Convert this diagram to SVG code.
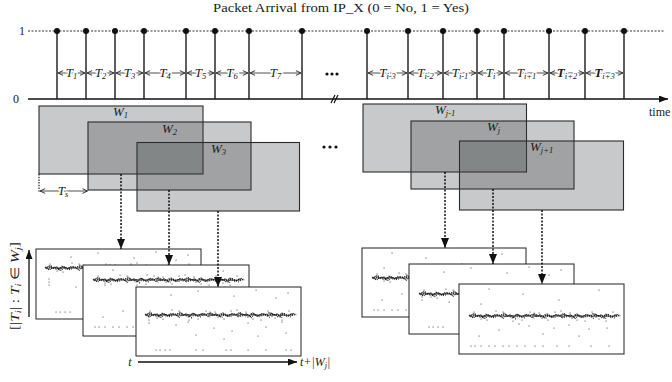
<svg xmlns="http://www.w3.org/2000/svg" width="672" height="382" viewBox="0 0 672 382">
<defs>
<style>
text{font-family:"Liberation Serif","Times New Roman",serif;fill:#1a1a1a}
.lbl{font-size:12px}
.it{font-style:italic}
.tl{font-size:13px;font-style:italic;text-anchor:middle;stroke:#fff;stroke-width:3px;paint-order:stroke;stroke-linejoin:round}
.wl{font-size:13px;font-style:italic}
.sub{font-size:8.5px}
.stem{stroke:#1a1a1a;stroke-width:1.4}
.dot{fill:#111}
.iv{stroke:#222;stroke-width:0.8;fill:none;marker-start:url(#open);marker-end:url(#open)}
.win{fill:#3a3c40;fill-opacity:.28;stroke:#2b2b2b;stroke-width:1.1}
.plot{fill:#fff;stroke:#222;stroke-width:1}
.con{stroke:#111;stroke-width:1.5;stroke-dasharray:2 1.5;fill:none;marker-end:url(#fill)}
.pts{fill:none;stroke:#333;stroke-width:1.1;stroke-linecap:round}
.bd{fill:none;stroke:#151515;stroke-width:1.1}
.ax{stroke:#111;stroke-width:1.3;fill:none;marker-end:url(#axh)}
</style>
<marker id="open" viewBox="0 0 6 6" refX="5.6" refY="3" markerWidth="6" markerHeight="6" markerUnits="userSpaceOnUse" orient="auto-start-reverse"><path d="M0.5,0.6 L5.5,3 L0.5,5.4" fill="none" stroke="#222" stroke-width="0.9"/></marker>
<marker id="fill" viewBox="0 0 10 8" refX="10" refY="4" markerWidth="10" markerHeight="8" markerUnits="userSpaceOnUse" orient="auto"><path d="M0,0 L10,4 L0,8 z" fill="#111"/></marker>
<marker id="axh" viewBox="0 0 9 7" refX="9" refY="3.5" markerWidth="9" markerHeight="7" markerUnits="userSpaceOnUse" orient="auto"><path d="M0,0 L9,3.5 L0,7 z" fill="#111"/></marker>
<path id="wa" d="M0,-1 l3,2.5 3,-3.5 3,2 3,-1 3,3 3,-4 3,2 3,1 3,-2.5 3,0.5 3,2.5 3,-3.5 3,2 3,-1 3,3 3,-4 3,2 3,1 3,-2.5 3,0.5 3,2.5 3,-3.5 3,2 3,-1 3,3 3,-4 3,2 3,1 3,-2.5 3,0.5 3,2.5 3,-3.5 3,2 3,-1 3,3 3,-4 3,2 3,1 3,-2.5 3,0.5 3,2.5 3,-3.5 3,2 3,-1 3,3 3,-4 3,2 3,1 3,-2.5 3,0.5"/>
<path id="wb" d="M0,0 l3,-2 3,3 3,-1.5 3,2.5 3,-3 3,1 3,1.5 3,-2 3,0.5 3,0 3,-2 3,3 3,-1.5 3,2.5 3,-3 3,1 3,1.5 3,-2 3,0.5 3,0 3,-2 3,3 3,-1.5 3,2.5 3,-3 3,1 3,1.5 3,-2 3,0.5 3,0 3,-2 3,3 3,-1.5 3,2.5 3,-3 3,1 3,1.5 3,-2 3,0.5 3,0 3,-2 3,3 3,-1.5 3,2.5 3,-3 3,1 3,1.5 3,-2 3,0.5 3,0"/>
<g id="band">
<path class="bd" d="M0,0 h148" stroke-dasharray="1.2 0.7"/>
<use href="#wa" class="bd" stroke-dasharray="1 1.1"/>
<use href="#wb" class="bd" x="1" stroke-dasharray="0.9 1.3"/>
<use href="#wa" class="bd" x="1.5" y="0.8" stroke-dasharray="0.8 1.5"/>
<use href="#wb" class="bd" x="2" y="-0.8" stroke-dasharray="0.8 1.6"/>
<path class="pts" d="M5,-4h.1 M18,4h.1 M27,-5h.1 M44,5h.1 M61,-4h.1 M79,4h.1 M92,-5h.1 M108,4h.1 M123,-4h.1 M137,5h.1 M12,3h.1 M70,-3h.1 M101,-3h.1 M130,3h.1 M34,-4h.1 M53,4h.1 M86,-4h.1 M116,5h.1 M144,-4h.1"/>
</g>
<path id="spA" class="pts" d="M13,30h.1 M13,33h.1 M13,36h.1 M35,8h.1 M62,4h.1 M98,9h.1 M120,3h.1 M140,11h.1 M152,6h.1 M40,38h.1 M52,35h.1 M78,41h.1 M96,44h.1 M112,36h.1 M130,40h.1 M146,35h.1 M60,48h.1 M88,52h.1 M122,49h.1 M150,46h.1 M20,63h.1 M24,63h.1 M29,63h.1 M34,63h.1 M60,63h.1 M67,63h.1 M90,63h.1 M95,63h.1 M112,63h.1 M130,63h.1 M150,63h.1 M155,63h.1"/>
<path id="spB" class="pts" d="M30,5h.1 M64,10h.1 M100,16h.1 M140,6h.1 M22,20h.1 M60,40h.1 M70,42h.1 M95,44h.1 M110,41h.1 M130,45h.1 M148,44h.1 M40,46h.1 M20,52h.1 M84,50h.1 M120,52h.1 M12,62h.1 M16,62h.1 M22,62h.1 M30,62h.1 M36,62h.1 M44,62h.1 M50,62h.1 M58,62h.1 M66,62h.1 M76,62h.1 M84,62h.1 M98,62h.1 M110,62h.1 M132,62h.1 M150,62h.1"/>
</defs>

<g id="title"><text class="lbl" x="213" y="12" textLength="256" lengthAdjust="spacingAndGlyphs">Packet Arrival from IP_X (0 = No, 1 = Yes)</text></g>

<g id="levels">
<text class="lbl" x="22" y="35" text-anchor="middle">1</text>
<text class="lbl" x="16" y="103" text-anchor="middle">0</text>
<line x1="28" y1="31" x2="664" y2="31" stroke="#333" stroke-width="1" stroke-dasharray="2 1.5"/>
</g>

<g id="timeline">
<path class="ax" d="M28,99 H668"/>
<path d="M331,103 L335,95 M334,103 L338,95" stroke="#111" stroke-width="1.2"/>
<text class="lbl" x="649" y="116">time</text>
<g id="stems">
<path class="stem" d="M57,31V99 M86,31V99 M115,31V99 M144,31V99 M186,31V99 M215,31V99 M249,31V99 M302,31V99 M367,31V99 M408,31V99 M443,31V99 M477,31V99 M504,31V99 M549,31V99 M585,31V99 M624,31V99"/>
<circle class="dot" cx="57" cy="31" r="3"/><circle class="dot" cx="86" cy="31" r="3"/><circle class="dot" cx="115" cy="31" r="3"/><circle class="dot" cx="144" cy="31" r="3"/><circle class="dot" cx="186" cy="31" r="3"/><circle class="dot" cx="215" cy="31" r="3"/><circle class="dot" cx="249" cy="31" r="3"/><circle class="dot" cx="302" cy="31" r="3"/>
<circle class="dot" cx="367" cy="31" r="3"/><circle class="dot" cx="408" cy="31" r="3"/><circle class="dot" cx="443" cy="31" r="3"/><circle class="dot" cx="477" cy="31" r="3"/><circle class="dot" cx="504" cy="31" r="3"/><circle class="dot" cx="549" cy="31" r="3"/><circle class="dot" cx="585" cy="31" r="3"/><circle class="dot" cx="624" cy="31" r="3"/>
</g>
<g id="intervals">
<line class="iv" x1="58" y1="73" x2="85" y2="73"/>
<line class="iv" x1="87" y1="73" x2="114" y2="73"/>
<line class="iv" x1="116" y1="73" x2="143" y2="73"/>
<line class="iv" x1="145" y1="73" x2="185" y2="73"/>
<line class="iv" x1="187" y1="73" x2="214" y2="73"/>
<line class="iv" x1="216" y1="73" x2="248" y2="73"/>
<line class="iv" x1="250" y1="73" x2="301" y2="73"/>
<line class="iv" x1="368" y1="73" x2="407" y2="73"/>
<line class="iv" x1="409" y1="73" x2="442" y2="73"/>
<line class="iv" x1="444" y1="73" x2="476" y2="73"/>
<line class="iv" x1="478" y1="73" x2="503" y2="73"/>
<line class="iv" x1="505" y1="73" x2="548" y2="73"/>
<line class="iv" x1="550" y1="73" x2="584" y2="73"/>
<line class="iv" x1="586" y1="73" x2="623" y2="73"/>
<text class="tl" x="71.5" y="77">T<tspan class="sub" dy="1.5">1</tspan></text>
<text class="tl" x="100.5" y="77">T<tspan class="sub" dy="1.5">2</tspan></text>
<text class="tl" x="129.5" y="77">T<tspan class="sub" dy="1.5">3</tspan></text>
<text class="tl" x="165" y="77">T<tspan class="sub" dy="1.5">4</tspan></text>
<text class="tl" x="200.5" y="77">T<tspan class="sub" dy="1.5">5</tspan></text>
<text class="tl" x="232" y="77">T<tspan class="sub" dy="1.5">6</tspan></text>
<text class="tl" x="275.5" y="77">T<tspan class="sub" dy="1.5">7</tspan></text>
<text class="tl" x="387.5" y="77">T<tspan class="sub" dy="1.5">i-3</tspan></text>
<text class="tl" x="425.5" y="77">T<tspan class="sub" dy="1.5">i-2</tspan></text>
<text class="tl" x="460" y="77">T<tspan class="sub" dy="1.5">i-1</tspan></text>
<text class="tl" x="490.5" y="77">T<tspan class="sub" dy="1.5">i</tspan></text>
<text class="tl" x="526.5" y="77">T<tspan class="sub" dy="1.5">i+1</tspan></text>
<text class="tl" x="567" y="77"><tspan font-weight="bold">T</tspan><tspan class="sub" dy="1.5">i+2</tspan></text>
<text class="tl" x="604.5" y="77"><tspan font-weight="bold">T</tspan><tspan class="sub" dy="1.5">i+3</tspan></text>
</g>
<g id="ellipsis-top" fill="#111"><circle cx="327" cy="74" r="1.6"/><circle cx="332" cy="74" r="1.6"/><circle cx="337" cy="74" r="1.6"/></g>
</g>

<g id="w1"><rect class="win" x="39" y="106" width="164" height="68"/><text class="wl" x="113" y="116">W<tspan class="sub" dy="1.5">1</tspan></text></g>
<g id="w2"><rect class="win" x="88" y="122" width="163" height="68"/><text class="wl" x="162" y="133">W<tspan class="sub" dy="1.5">2</tspan></text></g>
<g id="w3"><rect class="win" x="137" y="142.5" width="162.5" height="68.5"/><text class="wl" x="211" y="153">W<tspan class="sub" dy="1.5">3</tspan></text></g>
<g id="ellipsis-mid" fill="#111"><circle cx="324" cy="147" r="1.6"/><circle cx="330" cy="147" r="1.6"/><circle cx="336" cy="147" r="1.6"/></g>
<g id="wj-1"><rect class="win" x="363" y="104" width="163.5" height="68"/><text class="wl" x="435" y="114">W<tspan class="sub" dy="1.5">j-1</tspan></text></g>
<g id="wj"><rect class="win" x="411" y="121" width="163" height="68"/><text class="wl" x="487" y="131">W<tspan class="sub" dy="1.5">j</tspan></text></g>
<g id="wj+1"><rect class="win" x="459.5" y="141" width="164" height="69"/><text class="wl" x="530" y="151">W<tspan class="sub" dy="1.5">j+1</tspan></text></g>

<g id="ts">
<line x1="39" y1="174" x2="39" y2="192" stroke="#111" stroke-width="1.1" stroke-dasharray="1.5 1.2"/>
<line class="iv" x1="40" y1="191" x2="87.5" y2="191"/>
<text class="tl" x="63" y="195">T<tspan class="sub" dy="1.5">s</tspan></text>
</g>

<g id="plot-l1" transform="translate(36,249)"><rect class="plot" width="165" height="70"/><use href="#band" x="9" y="19"/><use href="#spA"/></g>
<g id="plot-l2" transform="translate(83,265)"><rect class="plot" width="166" height="71"/><use href="#band" x="10" y="15"/><use href="#spB"/></g>
<g id="plot-l3" transform="translate(136,287)"><rect class="plot" width="165" height="69"/><use href="#band" x="9" y="28"/><use href="#spA"/></g>
<g id="plot-r1" transform="translate(362,248)"><rect class="plot" width="164" height="69"/><use href="#band" x="10" y="30"/><use href="#spB"/></g>
<g id="plot-r2" transform="translate(409,264)"><rect class="plot" width="165" height="70"/><use href="#band" x="10" y="30"/><use href="#spA"/></g>
<g id="plot-r3" transform="translate(459,284)"><rect class="plot" width="165" height="70"/><use href="#band" x="10" y="32"/><use href="#spB"/></g>

<g id="axes">
<path class="ax" d="M29,317 V250"/>
<text class="lbl" transform="translate(19,286) rotate(-90)" text-anchor="middle" font-size="13" textLength="88" lengthAdjust="spacingAndGlyphs">[|<tspan class="it">T</tspan><tspan class="sub it" dy="1.5">i</tspan><tspan dy="-1.5">| : </tspan><tspan class="it">T</tspan><tspan class="sub it" dy="1.5">i</tspan><tspan dy="-1.5"> ∈ </tspan><tspan class="it">W</tspan><tspan class="sub it" dy="1.5">j</tspan><tspan dy="-1.5">]</tspan></text>
<path class="ax" d="M138,362 H297"/>
<text class="lbl it" x="130" y="366" text-anchor="middle">t</text>
<text class="lbl it" x="300" y="366">t+|W<tspan class="sub" dy="1.5">j</tspan><tspan dy="-1.5">|</tspan></text>
</g>

<g id="connectors">
<line class="con" x1="121" y1="174" x2="121" y2="249"/>
<line class="con" x1="169" y1="190" x2="169" y2="265"/>
<line class="con" x1="218" y1="211" x2="218" y2="287"/>
<line class="con" x1="445" y1="172" x2="445" y2="248"/>
<line class="con" x1="493" y1="189" x2="493" y2="264"/>
<line class="con" x1="542" y1="210" x2="542" y2="284"/>
</g>
</svg>
